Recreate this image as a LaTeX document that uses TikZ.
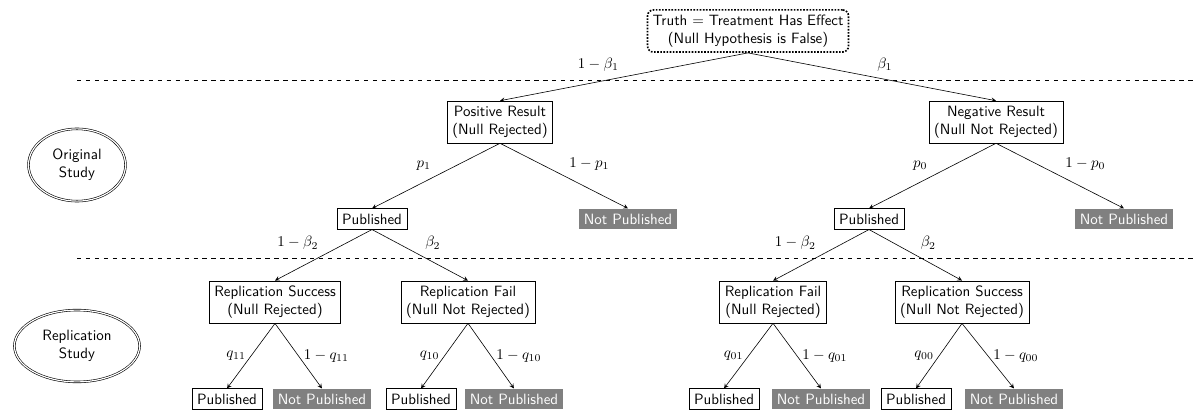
\documentclass[tikz,border=0pt]{standalone}
\usepackage{amsmath,amssymb}
\usepackage{tikz}
\usetikzlibrary{shapes.geometric}

\begin{document}
\begin{tikzpicture}[x=0.2353mm,y=-0.2353mm,>=stealth,
		every node/.style={font=\sffamily},
		result/.style={draw,align=center},
		pub/.style={draw},
		notpub/.style={fill=gray,text=white},
		study/.style={ellipse,draw,double,double distance=0.8pt,inner sep=6.5pt,align=center}]
		\useasboundingbox (0,0) rectangle (1196,411);
		
		\node[draw,line width=1.1pt,densely dotted,rounded corners,align=center] (truth) at (748,31) {Truth $=$ Treatment Has Effect\\(Null Hypothesis is False)};
		
		\node[study] (orig) at (77,165) {Original\\Study};
		\node[study] (repl) at (77,346) {Replication\\Study};
		
		\draw[dashed] (77,80) -- (1196,80);
		\draw[dashed] (77,258) -- (1196,258);
		
		\node[result] (pos) at (500,122) {Positive Result\\(Null Rejected)};
		\node[result] (neg) at (996,122) {Negative Result\\(Null Not Rejected)};
		
		\node[pub] (pubA) at (372,219) {Published};
		\node[notpub] (npA) at (628,219) {Not Published};
		\node[pub] (pubB) at (869,219) {Published};
		\node[notpub] (npB) at (1124,219) {Not Published};
		
		\node[result] (rsA) at (275,302) {Replication Success\\(Null Rejected)};
		\node[result] (rfA) at (468,302) {Replication Fail\\(Null Not Rejected)};
		\node[result] (rfB) at (773,302) {Replication Fail\\(Null Rejected)};
		\node[result] (rsB) at (962,302) {Replication Success\\(Null Not Rejected)};
		
		\node[pub] (pubAA) at (227,399) {Published};
		\node[notpub] (npAA) at (322,399) {Not Published};
		\node[pub] (pubAB) at (421,399) {Published};
		\node[notpub] (npAB) at (514,399) {Not Published};
		\node[pub] (pubBA) at (724,399) {Published};
		\node[notpub] (npBA) at (821,399) {Not Published};
		\node[pub] (pubBB) at (916,399) {Published};
		\node[notpub] (npBB) at (1014,399) {Not Published};
		
		\draw[->] (truth.south) -- (pos.north) node[midway,above left]{$1-\beta_1$};
		\draw[->] (truth.south) -- (neg.north) node[midway,above right]{$\beta_1$};
		
		\draw[->] (pos.south) -- (pubA.north) node[midway,above left]{$p_1$};
		\draw[->] (pos.south) -- (npA.north) node[midway,above right]{$1-p_1$};
		\draw[->] (neg.south) -- (pubB.north) node[midway,above left]{$p_0$};
		\draw[->] (neg.south) -- (npB.north) node[midway,above right]{$1-p_0$};
		
		\draw[->] (pubA.south) -- (rsA.north) node[midway,above left]{$1-\beta_2$};
		\draw[->] (pubA.south) -- (rfA.north) node[midway,above right]{$\beta_2$};
		\draw[->] (pubB.south) -- (rfB.north) node[midway,above left]{$1-\beta_2$};
		\draw[->] (pubB.south) -- (rsB.north) node[midway,above right]{$\beta_2$};
		
		\draw[->] (rsA.south) -- (pubAA.north) node[midway,left]{$q_{11}$};
		\draw[->] (rsA.south) -- (npAA.north) node[midway,right]{$1-q_{11}$};
		\draw[->] (rfA.south) -- (pubAB.north) node[midway,left]{$q_{10}$};
		\draw[->] (rfA.south) -- (npAB.north) node[midway,right]{$1-q_{10}$};
		\draw[->] (rfB.south) -- (pubBA.north) node[midway,left]{$q_{01}$};
		\draw[->] (rfB.south) -- (npBA.north) node[midway,right]{$1-q_{01}$};
		\draw[->] (rsB.south) -- (pubBB.north) node[midway,left]{$q_{00}$};
		\draw[->] (rsB.south) -- (npBB.north) node[midway,right]{$1-q_{00}$};
\end{tikzpicture}
\end{document}
